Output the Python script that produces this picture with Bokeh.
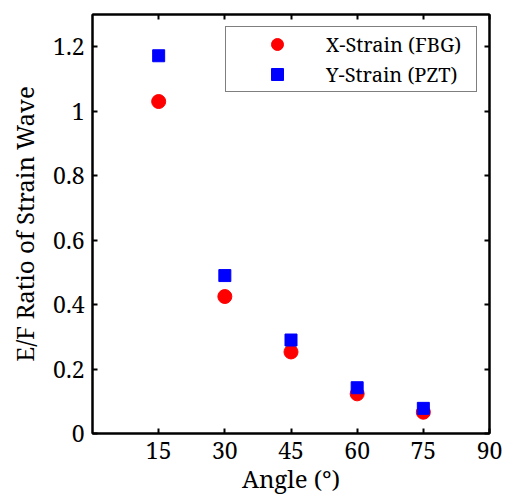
from bokeh.plotting import figure
from bokeh.models import Range1d, FixedTicker, LinearAxis, CustomJSTickFormatter
from bokeh.embed import file_html
from bokeh.resources import INLINE

# ---- data ----
angles = [15, 30, 45, 60, 75]
x_strain_fbg = [1.03, 0.425, 0.253, 0.123, 0.066]
y_strain_pzt = [1.172, 0.49, 0.29, 0.142, 0.078]
x_ticks = [15, 30, 45, 60, 75, 90]
x_tick_labels = ["15", "30", "45", "60", "75", "90"]
y_ticks = [0, 0.2, 0.4, 0.6, 0.8, 1.0, 1.2]
y_tick_labels = ["0", "0.2", "0.4", "0.6", "0.8", "1", "1.2"]
series_names = ["X-Strain (FBG)", "Y-Strain (PZT)"]
x_label = "Angle (\u00b0)"
y_label = "E/F Ratio of Strain Wave"

FONT = "Noto Serif"

p = figure(width=506, height=497, output_backend="svg", toolbar_location=None,
           x_range=Range1d(0, 90), y_range=Range1d(0, 1.3),
           min_border_left=92, min_border_right=17, min_border_top=14, min_border_bottom=64)
p.grid.visible = False
p.outline_line_color = "black"
p.outline_line_width = 2
p.background_fill_color = "white"
p.border_fill_color = "white"

p.scatter(angles, x_strain_fbg, marker="circle", size=14, fill_color="#ff0000",
          line_color="#ff0000", legend_label=series_names[0])
p.scatter(angles, y_strain_pzt, marker="square", size=12, fill_color="#0000ff",
          line_color="#0000ff", legend_label=series_names[1])

def style_axis(ax):
    ax.axis_line_width = 2
    ax.axis_line_color = "black"
    ax.major_tick_line_width = 2
    ax.major_tick_line_color = "black"
    ax.major_tick_in = 5
    ax.major_tick_out = 0
    ax.minor_tick_line_color = None
    ax.major_label_text_font = FONT
    ax.major_label_text_color = "black"
    ax.axis_label_text_font = FONT
    ax.axis_label_text_font_style = "normal"
    ax.axis_label_text_color = "black"

xa = p.xaxis[0]
style_axis(xa)
xa.ticker = FixedTicker(ticks=x_ticks)
xa.major_label_overrides = dict(zip(x_ticks, x_tick_labels))
xa.major_label_text_font_size = "23px"
xa.major_label_standoff = 8
xa.axis_label = x_label
xa.axis_label_text_font_size = "24px"
xa.axis_label_standoff = 0

ya = p.yaxis[0]
style_axis(ya)
ya.ticker = FixedTicker(ticks=y_ticks)
ya.major_label_overrides = dict(zip(y_ticks, y_tick_labels))
ya.major_label_text_font_size = "23px"
ya.major_label_standoff = 8
ya.axis_label = y_label
ya.axis_label_text_font_size = "24px"
ya.axis_label_standoff = 9

empty = CustomJSTickFormatter(code="return ''")
top = LinearAxis(ticker=FixedTicker(ticks=x_ticks), formatter=empty)
style_axis(top)
top.major_label_text_font_size = "0px"
top.major_label_standoff = 0
p.add_layout(top, "above")

right = LinearAxis(ticker=FixedTicker(ticks=y_ticks), formatter=empty)
style_axis(right)
right.major_label_text_font_size = "0px"
right.major_label_standoff = 0
p.add_layout(right, "right")

lg = p.legend[0]
lg.location = "top_right"
lg.margin = 12
lg.padding = 2
lg.spacing = 0
lg.glyph_height = 30
lg.glyph_width = 98
lg.label_standoff = 0
lg.label_width = 148
lg.label_height = 24
lg.label_text_font = FONT
lg.label_text_font_size = "20px"
lg.label_text_color = "black"
lg.border_line_color = "black"
lg.border_line_width = 1.5
lg.background_fill_color = "white"
lg.background_fill_alpha = 1.0

open("out.html", "w").write(file_html(p, INLINE))
